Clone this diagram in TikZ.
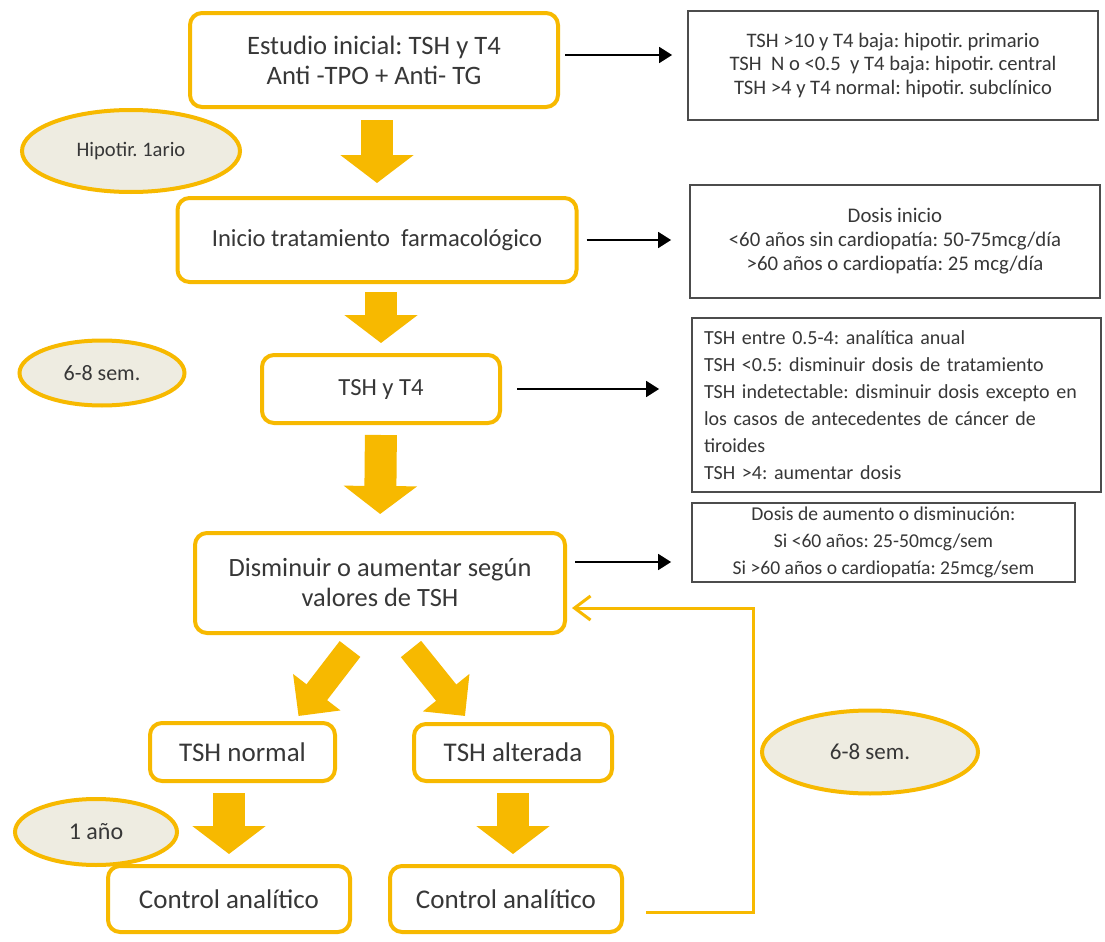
\documentclass[tikz,border=0pt]{standalone}
\usepackage{fontspec}
\setmainfont{Carlito}
\usetikzlibrary{arrows.meta,positioning,shapes.geometric}

\definecolor{gold}{RGB}{247,185,0}
\definecolor{tan}{RGB}{238,236,225}
\definecolor{txt}{RGB}{55,55,55}

\begin{document}
\frenchspacing
\begin{tikzpicture}[
    x = 0.5pt, y = -0.5pt,
    every node/.style = {font=\fontsize{12.3}{15}\selectfont, text=txt},
    box/.style = {
        rectangle,
        rounded corners=6pt,
        draw=gold,
        line width=2pt,
        fill=white,
        align=center,
        inner sep=0pt
    },
    lowbox/.style = {
        box,
        font=\fontsize{13.5}{16}\selectfont
    },
    note/.style = {
        rectangle,
        draw=black!70,
        line width=0.9pt,
        align=center,
        inner sep=0pt,
        font=\fontsize{10.3}{11.7}\selectfont
    },
    lapse/.style = {
        ellipse,
        draw=gold,
        line width=2pt,
        fill=tan,
        inner sep=0pt,
        font=\fontsize{11}{13}\selectfont
    },
    arrow/.style = {
        -{Triangle[length=6.5pt, width=8pt]},
        line width=0.9pt
    },
    bigarrow/.style = {
        draw=gold,
        line width=16pt,
        -{Triangle[length=14pt, width=36pt]}
    },
    slantarrow/.style = {
        draw=gold,
        line width=13pt,
        -{Triangle[length=15pt, width=29pt]}
    },
    feedback/.style = {
        draw=gold,
        line width=1.5pt,
        -{Straight Barb[length=8pt, width=12pt]}
    }
]
\useasboundingbox[fill=white] (0,0) rectangle (1105,942);

% main column
\node[box, minimum width=184pt, minimum height=47pt, font=\fontsize{13.3}{15}\selectfont] (inicial) at (374,60) {Estudio inicial: TSH y T4\\Anti -TPO + Anti- TG};
\node[box, minimum width=199.5pt, minimum height=42pt] (tratam) at (377,240) {Inicio tratamiento\ \ farmacológico};
\node[box, minimum width=119pt, minimum height=34pt] (control) at (381,389) {TSH y T4};
\node[box, minimum width=185pt, minimum height=50pt, font=\fontsize{13.2}{15}\selectfont] (ajuste) at (380,583) {Disminuir o aumentar según\\valores de TSH};
\node[lowbox, minimum width=92.5pt, minimum height=29pt] (normal) at (242.5,752) {TSH normal};
\node[lowbox, minimum width=99pt, minimum height=28.5pt] (alterada) at (513,752.5) {TSH alterada};
\node[lowbox, minimum width=121pt, minimum height=33pt] (analitA) at (229,899) {Control analítico};
\node[lowbox, minimum width=116pt, minimum height=33pt] (analitB) at (506,899) {Control analítico};

% notes on the right
\node[note, minimum width=205pt, minimum height=54.5pt] (diagn) at (893,65.5) {TSH >10 y T4 baja: hipotir. primario\\TSH\ \ N o <0.5\ \ y T4 baja: hipotir. central\\TSH >4 y T4 normal: hipotir. subclínico};
\node[note, minimum width=205pt, minimum height=56.5pt, font=\fontsize{10.4}{12}\selectfont] (dosis) at (895,241.5) {Dosis inicio\\<60 años sin cardiopatía: 50-75mcg/día\\>60 años o cardiopatía: 25 mcg/día};
\node[note, text width=192.5pt, inner xsep=6pt, minimum height=87pt, align=left, font=\fontsize{10}{13.5}\selectfont] (valores) at (896.5,405) {TSH entre 0.5-4: analítica anual\\TSH <0.5: disminuir dosis de tratamiento\\TSH indetectable: disminuir dosis excepto en\\los casos de antecedentes de cáncer de\\tiroides\\TSH >4: aumentar dosis};
\node[note, minimum width=191.5pt, minimum height=39.5pt, font=\fontsize{9.8}{13.5}\selectfont] (cambio) at (883.5,542.5) {Dosis de aumento o disminución:\\Si <60 años: 25-50mcg/sem\\Si >60 años o cardiopatía: 25mcg/sem};

% time labels
\node[lapse, minimum width=109pt, minimum height=41pt, font=\fontsize{10.3}{12}\selectfont] (primario) at (131,151) {Hipotir. 1ario};
\node[lapse, minimum width=82.5pt, minimum height=32.5pt] (semA) at (102,373) {6-8 sem.};
\node[lapse, minimum width=108pt, minimum height=41.5pt, font=\fontsize{11.5}{13}\selectfont] (semB) at (870,752) {6-8 sem.};
\node[lapse, minimum width=81pt, minimum height=33pt, font=\fontsize{12}{13}\selectfont] (anual) at (96,832) {1 año};

% block arrows
\draw[bigarrow, shorten <=5.5pt, shorten >=6.5pt] (inicial.south -| tratam.north) -- (tratam.north);
\draw[bigarrow, shorten <=4pt, shorten >=5pt] (tratam.south -| control.north) -- (control.north);
\draw[bigarrow, shorten <=5pt, shorten >=8.5pt] (control.south) -- (ajuste.north);
\draw[slantarrow] ([shift={(-30,14)}]ajuste.south) -- ([shift={(56,-5)}]normal.north);
\draw[slantarrow] ([shift={(31,14)}]ajuste.south) -- ([shift={(-48,-6)}]alterada.north);
\draw[bigarrow, shorten <=5pt, shorten >=5pt] (normal.south -| analitA.north) -- (analitA.north);
\draw[bigarrow, shorten <=5pt, shorten >=5pt] (alterada.south) -- (alterada.south |- analitB.north);

% pointers to notes
\draw[arrow, shorten <=2.5pt, shorten >=7.5pt] ([yshift=2.5pt]inicial.east) -- ([yshift=2.5pt]inicial.east -| diagn.west);
\draw[arrow, shorten <=4pt, shorten >=9pt] (tratam.east) -- (tratam.east -| dosis.west);
\draw[arrow, shorten <=7.5pt, shorten >=16pt] (control.east) -- (control.east -| valores.west);
\draw[arrow, shorten <=4pt, shorten >=10pt] ([yshift=10.5pt]ajuste.east) -- ([yshift=10.5pt]ajuste.east -| cambio.west);

% repeat loop
\coordinate (vuelta) at (753,912);
\draw[feedback, shorten <=11pt, shorten >=2.5pt] (analitB.east |- vuelta) -- (vuelta) |- ([yshift=-12.5pt]ajuste.east);

\end{tikzpicture}
\end{document}
